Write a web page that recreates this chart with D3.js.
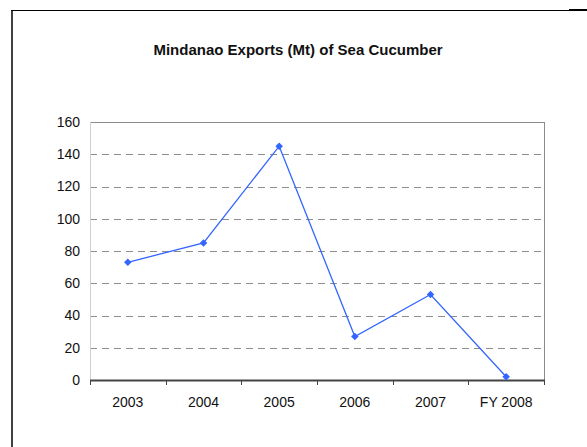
<!DOCTYPE html>
<html>
<head>
<meta charset="utf-8">
<script src="https://cdn.jsdelivr.net/npm/d3@7/dist/d3.min.js"></script>
<style>
  body { margin: 0; background: #fff; }
  text { font-family: "Liberation Sans", Arial, sans-serif; fill: #111; }
</style>
</head>
<body>
<div id="vis"></div>
<script>
"use strict";
var years = ['2003', '2004', '2005', '2006', '2007', 'FY 2008'];
var exports_mt = [73, 85, 145, 27, 53, 2];
var y_ticks = [0, 20, 40, 60, 80, 100, 120, 140, 160];
var title = 'Mindanao Exports (Mt) of Sea Cucumber';

var width = 587, height = 447;
var plot = { left: 90, top: 122, right: 544, bottom: 380 };

var svg = d3.select('#vis')
    .append('svg')
    .attr('width', width)
    .attr('height', height);

// outer frame
svg.append('line')
    .attr('x1', 12).attr('x2', 12)
    .attr('y1', 10).attr('y2', height)
    .attr('stroke', '#000').attr('stroke-width', 1.5);
svg.append('line')
    .attr('x1', 11).attr('x2', width)
    .attr('y1', 10.5).attr('y2', 10.5)
    .attr('stroke', '#000').attr('stroke-width', 1);
svg.append('line')
    .attr('x1', 569).attr('x2', width)
    .attr('y1', 10).attr('y2', 10)
    .attr('stroke', '#000').attr('stroke-width', 2);

svg.append('text')
    .text(title)
    .attr('x', 298)
    .attr('y', 55)
    .attr('text-anchor', 'middle')
    .style('font-size', '15px')
    .style('font-weight', 'bold');

var x = d3.scaleBand()
    .domain(years)
    .range([plot.left, plot.right]);
var y = d3.scaleLinear()
    .domain([0, 160])
    .range([plot.bottom, plot.top]);

// gridlines
svg.selectAll('.grid')
    .data(y_ticks.filter(function (t) { return t > 0 && t < 160; }))
    .enter().append('line')
    .classed('grid', true)
    .attr('x1', plot.left).attr('x2', plot.right)
    .attr('y1', function (t) { return Math.round(y(t)) + 0.5; })
    .attr('y2', function (t) { return Math.round(y(t)) + 0.5; })
    .attr('stroke', '#8c8c8c')
    .attr('stroke-dasharray', '7,5');

// plot border: top, right gray; left light gray
svg.append('line')
    .attr('x1', plot.left).attr('x2', plot.right)
    .attr('y1', plot.top + 0.5).attr('y2', plot.top + 0.5)
    .attr('stroke', '#8c8c8c');
svg.append('line')
    .attr('x1', plot.right + 0.5).attr('x2', plot.right + 0.5)
    .attr('y1', plot.top).attr('y2', plot.bottom)
    .attr('stroke', '#8c8c8c');
svg.append('line')
    .attr('x1', plot.left + 0.5).attr('x2', plot.left + 0.5)
    .attr('y1', plot.top).attr('y2', plot.bottom)
    .attr('stroke', '#cfcfcf');

// x axis
var xAxis = svg.append('g')
    .attr('transform', 'translate(0,' + plot.bottom + ')');
xAxis.append('line')
    .attr('x1', plot.left).attr('x2', plot.right + 1)
    .attr('y1', 0.5).attr('y2', 0.5)
    .attr('stroke', '#444').attr('stroke-width', 1.8);
var edges = years.map(function (d) { return x(d); }).concat([plot.right]);
xAxis.selectAll('.xtick')
    .data(edges)
    .enter().append('line')
    .classed('xtick', true)
    .attr('x1', function (d) { return Math.round(d) + 0.5; })
    .attr('x2', function (d) { return Math.round(d) + 0.5; })
    .attr('y1', 0).attr('y2', 5)
    .attr('stroke', '#444');
xAxis.selectAll('.xlabel')
    .data(years)
    .enter().append('text')
    .classed('xlabel', true)
    .text(function (d) { return d; })
    .attr('x', function (d) { return x(d) + x.bandwidth() / 2; })
    .attr('y', 27)
    .attr('text-anchor', 'middle')
    .style('font-size', '14px');

// y labels
svg.selectAll('.ylabel')
    .data(y_ticks)
    .enter().append('text')
    .classed('ylabel', true)
    .text(function (d) { return d; })
    .attr('x', 80)
    .attr('y', function (d) { return y(d); })
    .attr('dy', '0.35em')
    .attr('text-anchor', 'end')
    .style('font-size', '14px');

// series
var pts = years.map(function (d, i) { return [x(d) + x.bandwidth() / 2, y(exports_mt[i])]; });
svg.append('path')
    .attr('d', d3.line()(pts))
    .attr('fill', 'none')
    .attr('stroke', '#3366ff')
    .attr('stroke-width', 1.3);
svg.selectAll('.marker')
    .data(pts)
    .enter().append('path')
    .classed('marker', true)
    .attr('d', d3.symbol().type(d3.symbolDiamond2).size(36))
    .attr('transform', function (p) { return 'translate(' + p[0] + ',' + p[1] + ')'; })
    .attr('fill', '#3366ff');
</script>
</body>
</html>
